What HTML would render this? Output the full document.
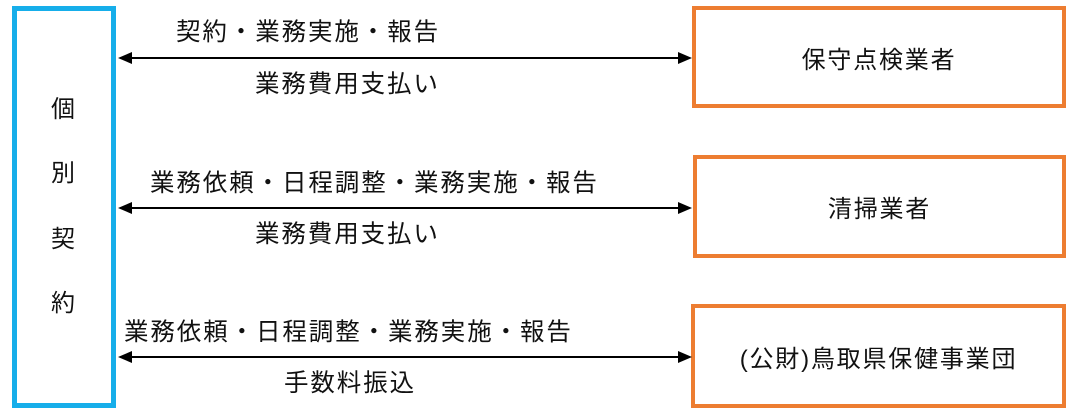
<!DOCTYPE html>
<html><head><meta charset="utf-8"><style>
body{margin:0;width:1073px;height:417px;background:#fff;position:relative;overflow:hidden;font-family:"Liberation Sans","Noto Sans CJK JP",sans-serif;color:#111}
.b{position:absolute;box-sizing:border-box}
.o{border:4px solid #ed7d31;display:flex;align-items:center;justify-content:center;font-size:24px;letter-spacing:1.8px}
.t{position:absolute;font-size:24.5px;letter-spacing:1.9px;white-space:nowrap;line-height:1;transform:translateY(-50%)}
.v{position:absolute;font-size:24px;line-height:1;transform:translate(-50%,-50%)}
</style></head><body>
<div class="b" style="left:12px;top:6px;width:104px;height:402px;border:5px solid #16aeea"></div>
<div class="v" style="left:63px;top:110px">個</div>
<div class="v" style="left:63px;top:174px">別</div>
<div class="v" style="left:63px;top:240px">契</div>
<div class="v" style="left:63px;top:304px">約</div>
<div class="b o" style="left:692px;top:6px;width:374px;height:102px">保守点検業者</div>
<div class="b o" style="left:693px;top:155px;width:373px;height:103px">清掃業者</div>
<div class="b o" style="left:691px;top:304px;width:375px;height:104px">(公財)鳥取県保健事業団</div>
<svg class="b" style="left:0;top:0" width="1073" height="417">
<g stroke="#000" stroke-width="2"><line x1="125" y1="58" x2="682" y2="58"/><line x1="125" y1="208" x2="682" y2="208"/><line x1="125" y1="357" x2="682" y2="357"/></g>
<g fill="#000">
<polygon points="118,58 132,52 132,64"/><polygon points="692,58 678,52 678,64"/>
<polygon points="118,208 132,202 132,214"/><polygon points="692,208 678,202 678,214"/>
<polygon points="118,357 132,351 132,363"/><polygon points="692,357 678,351 678,363"/>
</g></svg>
<div class="t" style="left:176px;top:33px">契約・業務実施・報告</div>
<div class="t" style="left:255px;top:85px">業務費用支払い</div>
<div class="t" style="left:150px;top:184px">業務依頼・日程調整・業務実施・報告</div>
<div class="t" style="left:255px;top:235px">業務費用支払い</div>
<div class="t" style="left:124px;top:333px">業務依頼・日程調整・業務実施・報告</div>
<div class="t" style="left:284px;top:384px">手数料振込</div>
</body></html>
